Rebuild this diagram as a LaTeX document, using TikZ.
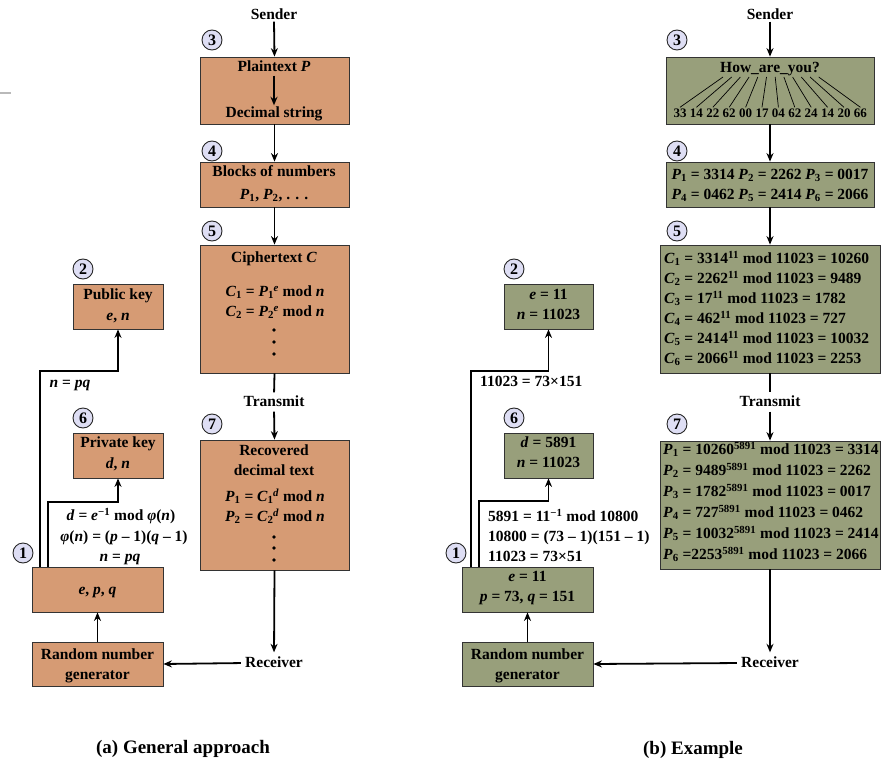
\documentclass[tikz,border=0pt]{standalone}
\usepackage{fontspec}
\setmainfont{Liberation Serif}
\usetikzlibrary{arrows.meta}
\definecolor{orangec}{RGB}{214,155,116}
\definecolor{olivec}{RGB}{152,159,123}
\definecolor{circc}{RGB}{222,222,244}
\newcommand\iv[1]{\textit{#1}}
\newcommand\sbsp[2]{\textsubscript{#1}\kern-0.5pt\textsuperscript{#2}}
\tikzset{
 box/.style={draw=black!80, line width=0.8pt, inner sep=0pt},
 lbox/.style={box, fill=orangec},
 rbox/.style={box, fill=olivec},
 t/.style={font=\bfseries\fontsize{15.5}{18}\selectfont, inner sep=0pt, text height=11pt, text depth=2pt},
 ts/.style={font=\bfseries\fontsize{13}{16}\selectfont, inner sep=0pt, text height=9pt, text depth=1pt},
 captxt/.style={font=\bfseries\fontsize{19}{22}\selectfont, inner sep=0pt},
 num/.style={circle, draw=black!85, line width=0.9pt, fill=circc, minimum size=20pt, inner sep=0pt, font=\bfseries\fontsize{16}{16}\selectfont},
 arr/.style={line width=1.8pt, -{Stealth[length=8.5pt,width=7pt]}},
 ln/.style={line width=1.8pt},
 fan/.style={line width=0.7pt},
 dotc/.style={circle, fill=black, inner sep=0pt, minimum size=3.6pt},
}
\begin{document}
\begin{tikzpicture}[x=1pt,y=-1pt]
\useasboundingbox (0,0) rectangle (883,765);
\draw[gray!55, line width=1.2pt] (0,93) -- (11,93);

%% ================= LEFT PANEL =================
\node[t] (sendL) at (274,15) {Sender};
\node[lbox, minimum width=149pt, minimum height=67pt] (b3) at (274.5,90.5) {};
\node[lbox, minimum width=149pt, minimum height=45pt] (b4) at (274.5,184.5) {};
\node[lbox, minimum width=149pt, minimum height=128pt] (b5) at (274.5,309) {};
\node[lbox, minimum width=149pt, minimum height=130pt] (b7) at (274.5,505) {};
\node[lbox, minimum width=90pt, minimum height=45pt] (pub) at (118,306.5) {};
\node[lbox, minimum width=90pt, minimum height=45pt] (priv) at (118,455.5) {};
\node[lbox, minimum width=131pt, minimum height=45pt] (epq) at (97.5,589.5) {};
\node[lbox, minimum width=131pt, minimum height=44pt] (rng) at (97.5,664) {};

\node[num] (c3L) at (212,40) {3};
\node[num] (c4L) at (212,151) {4};
\node[num] (c5L) at (212,231) {5};
\node[num] (c7L) at (212,424) {7};
\node[num] (c2L) at (83,269) {2};
\node[num] (c6L) at (83,418) {6};
\node[num] (c1L) at (23,553) {1};

\node[t] (ptL) at (274,67) {Plaintext \iv{P}};
\node[t] (dsL) at (274,113) {Decimal string};
\node[t] (bnL) at (274,172) {Blocks of numbers};
\node[t] (pbL) at (274,195) {\iv{P}\textsubscript{1}, \iv{P}\textsubscript{2}, .\,\,.\,\,.};
\node[t] (ctL) at (274,258) {Ciphertext \iv{C}};
\node[t] (c1eq) at (275,292) {\iv{C}\textsubscript{1} = \iv{P}\sbsp{1}{\iv{e}} mod \iv{n}};
\node[t] (c2eq) at (275,312) {\iv{C}\textsubscript{2} = \iv{P}\sbsp{2}{\iv{e}} mod \iv{n}};
\node[dotc] (d1) at (274,330) {};
\node[dotc] (d2) at (274,342) {};
\node[dotc] (d3) at (274,354) {};
\node[t] (trL) at (274,402) {Transmit};
\node[t] (rcL) at (274,451) {Recovered};
\node[t] (dtL) at (274,471) {decimal text};
\node[t] (p1eq) at (275,497) {\iv{P}\textsubscript{1} = \iv{C}\sbsp{1}{\iv{d}} mod \iv{n}};
\node[t] (p2eq) at (275,517) {\iv{P}\textsubscript{2} = \iv{C}\sbsp{2}{\iv{d}} mod \iv{n}};
\node[dotc] (d4) at (274,537) {};
\node[dotc] (d5) at (274,548) {};
\node[dotc] (d6) at (274,560) {};
\node[t] (recvL) at (274,663) {Receiver};
\node[t] (rn1L) at (97.5,655) {Random number};
\node[t] (rn2L) at (97.5,675) {generator};
\node[t] (epqt) at (97.5,590) {\iv{e}, \iv{p}, \iv{q}};
\node[t] (pk1) at (118,295) {Public key};
\node[t] (pk2) at (118,316) {\iv{e}, \iv{n}};
\node[t] (sk1) at (118,443) {Private key};
\node[t] (sk2) at (118,464) {\iv{d}, \iv{n}};
\node[t] (npqA) at (70,383) {\iv{n} = \iv{pq}};
\node[t] (deq) at (121,516) {\iv{d} = \iv{e}\textsuperscript{−1} mod \iv{φ}(\iv{n})};
\node[t] (phieq) at (124,537) {\iv{φ}(\iv{n}) = (\iv{p} – 1)(\iv{q} – 1)};
\node[t] (npqB) at (120,557) {\iv{n} = \iv{pq}};
\node[captxt] (capA) at (183,749) {(a) General approach};

\draw[arr] (sendL.south) -- (b3.north);
\draw[arr, shorten <=2pt, shorten >=1pt] (ptL.south) -- (dsL.north);
\draw[arr] (b3.south) -- (b4.north);
\draw[arr] (b4.south) -- (b5.north);
\draw[ln, shorten >=3pt] (b5.south) -- (trL.north);
\draw[arr, shorten <=3pt] (trL.south) -- (b7.north);
\draw[arr, shorten >=4pt] (b7.south) -- (recvL.north);
\draw[arr, shorten <=4pt] (recvL.west) -- (rng.east);
\draw[arr] (rng.north) -- (epq.south);
\coordinate (kaL) at (40,371);
\coordinate (kbL) at (48,502);
\draw[arr] (epq.north -| kaL) -- (kaL) -| (pub.south);
\draw[arr] (epq.north -| kbL) -- (kbL) -| (priv.south);

%% ================= RIGHT PANEL =================
\node[t] (sendR) at (770,15) {Sender};
\node[rbox, minimum width=208pt, minimum height=67pt] (rb3) at (770,90.5) {};
\node[rbox, minimum width=208pt, minimum height=45pt] (rb4) at (770,184.5) {};
\node[rbox, minimum width=220pt, minimum height=128pt] (rb5) at (770,309) {};
\node[rbox, minimum width=220pt, minimum height=128pt] (rb7) at (770,505) {};
\node[rbox, minimum width=89pt, minimum height=45pt] (rpub) at (548.5,306.5) {};
\node[rbox, minimum width=89pt, minimum height=45pt] (rpriv) at (548.5,455.5) {};
\node[rbox, minimum width=131pt, minimum height=45pt] (repq) at (527.5,589.5) {};
\node[rbox, minimum width=131pt, minimum height=44pt] (rrng) at (527.5,664) {};

\node[num] (c3R) at (677,40) {3};
\node[num] (c4R) at (677,151) {4};
\node[num] (c5R) at (677,231) {5};
\node[num] (c7R) at (677,424) {7};
\node[num] (c2R) at (514,269) {2};
\node[num] (c6R) at (514,418) {6};
\node[num] (c1R) at (456,553) {1};

\node[t] (how) at (770,68) {How\_are\_you?};
\foreach \v [count=\i] in {33,14,22,62,00,17,04,62,24,14,20,66}{
  \node[ts] (nm\i) at ({680+16.4*(\i-1)},114) {\v};
  \coordinate (ft\i) at ({723+8.7*(\i-1)},77);
  \draw[fan] (ft\i) -- ([yshift=1.5pt]nm\i.north);
}
\node[t] (bl1) at (770,175) {\iv{P}\textsubscript{1} = 3314 \iv{P}\textsubscript{2} = 2262 \iv{P}\textsubscript{3} = 0017};
\node[t] (bl2) at (770,195) {\iv{P}\textsubscript{4} = 0462 \iv{P}\textsubscript{5} = 2414 \iv{P}\textsubscript{6} = 2066};

\node[t, anchor=west] (ce1) at (664,259) {\iv{C}\textsubscript{1} = 3314\textsuperscript{11} mod 11023 = 10260};
\node[t, anchor=west] (ce2) at (664,279) {\iv{C}\textsubscript{2} = 2262\textsuperscript{11} mod 11023 = 9489};
\node[t, anchor=west] (ce3) at (664,299) {\iv{C}\textsubscript{3} = 17\textsuperscript{11} mod 11023 = 1782};
\node[t, anchor=west] (ce4) at (664,319) {\iv{C}\textsubscript{4} = 462\textsuperscript{11} mod 11023 = 727};
\node[t, anchor=west] (ce5) at (664,339) {\iv{C}\textsubscript{5} = 2414\textsuperscript{11} mod 11023 = 10032};
\node[t, anchor=west] (ce6) at (664,359) {\iv{C}\textsubscript{6} = 2066\textsuperscript{11} mod 11023 = 2253};

\node[t] (trR) at (770,402) {Transmit};

\node[t, anchor=west] (pe1) at (663,450) {\iv{P}\textsubscript{1} = 10260\textsuperscript{5891} mod 11023 = 3314};
\node[t, anchor=west] (pe2) at (663,471) {\iv{P}\textsubscript{2} = 9489\textsuperscript{5891} mod 11023 = 2262};
\node[t, anchor=west] (pe3) at (663,492) {\iv{P}\textsubscript{3} = 1782\textsuperscript{5891} mod 11023 = 0017};
\node[t, anchor=west] (pe4) at (663,513) {\iv{P}\textsubscript{4} = 727\textsuperscript{5891} mod 11023 = 0462};
\node[t, anchor=west] (pe5) at (663,534) {\iv{P}\textsubscript{5} = 10032\textsuperscript{5891} mod 11023 = 2414};
\node[t, anchor=west] (pe6) at (663,555) {\iv{P}\textsubscript{6} =2253\textsuperscript{5891} mod 11023 = 2066};

\node[t] (recvR) at (770,663) {Receiver};
\node[t] (rn1R) at (527.5,655) {Random number};
\node[t] (rn2R) at (527.5,675) {generator};
\node[t] (e11) at (527.5,577) {\iv{e} = 11};
\node[t] (pq11) at (527.5,597) {\iv{p} = 73, \iv{q} = 151};
\node[t] (rpk1) at (548.5,295) {\iv{e} = 11};
\node[t] (rpk2) at (548.5,315) {\iv{n} = 11023};
\node[t] (rsk1) at (548.5,443) {\iv{d} = 5891};
\node[t] (rsk2) at (548.5,463) {\iv{n} = 11023};
\node[t, anchor=west] (fac1) at (480,382) {11023 = 73×151};
\node[t, anchor=west] (inv) at (488,517) {5891 = 11\textsuperscript{−1} mod 10800};
\node[t, anchor=west] (phiR) at (488,537) {10800 = (73 – 1)(151 – 1)};
\node[t, anchor=west] (fac2) at (488,557) {11023 = 73×51};
\node[captxt] (capB) at (693,750) {(b) Example};

\draw[arr] (sendR.south) -- (rb3.north);
\draw[arr] (rb3.south) -- (rb4.north);
\draw[arr] (rb4.south) -- (rb5.north);
\draw[ln, shorten >=3pt] (rb5.south) -- (trR.north);
\draw[arr, shorten <=3pt] (trR.south) -- (rb7.north);
\draw[arr, shorten >=4pt] (rb7.south) -- (recvR.north);
\draw[arr, shorten <=4pt] (recvR.west) -- (rrng.east);
\draw[arr] (rrng.north) -- (repq.south);
\coordinate (kaR) at (471,371);
\coordinate (kbR) at (479,501);
\draw[arr] (repq.north -| kaR) -- (kaR) -| (rpub.south);
\draw[arr] (repq.north -| kbR) -- (kbR) -| (rpriv.south);
\end{tikzpicture}
\end{document}
